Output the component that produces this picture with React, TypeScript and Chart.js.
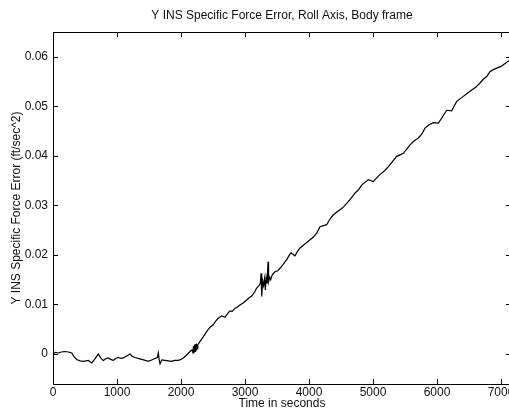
import React, { useEffect, useRef } from "react";
import { Chart, registerables } from "chart.js";

Chart.register(...registerables);

// Time axis samples (seconds)
const timeSec = [
  0, 40, 83, 130, 187, 240, 292, 330, 370, 420, 474, 515, 552, 604, 650, 708,
  750, 786, 830, 864, 900, 942, 980, 1020, 1060, 1098, 1150, 1203, 1240, 1281,
  1330, 1386, 1440, 1490, 1540, 1594, 1630, 1646, 1660, 1672, 1700, 1750,
  1800, 1854, 1900, 1958, 2000, 2036, 2090, 2140, 2170, 2185, 2195, 2203,
  2212, 2220, 2228, 2236, 2244, 2252, 2262, 2290, 2340, 2400, 2453, 2505,
  2545, 2583, 2635, 2687, 2730, 2766, 2800, 2844, 2880, 2922, 2970, 3026,
  3060, 3104, 3150, 3182, 3220, 3240, 3250, 3258, 3265, 3275, 3290, 3305,
  3318, 3330, 3345, 3360, 3368, 3385, 3400, 3420, 3440, 3469, 3510, 3547,
  3590, 3625, 3660, 3693, 3720, 3781, 3820, 3859, 3964, 4068, 4120, 4172,
  4276, 4330, 4380, 4484, 4540, 4589, 4650, 4719, 4770, 4823, 4927, 5005,
  5060, 5109, 5180, 5239, 5300, 5370, 5420, 5474, 5530, 5578, 5640, 5708,
  5760, 5813, 5880, 5943, 6021, 6073, 6151, 6229, 6307, 6360, 6411, 6480,
  6542, 6610, 6672, 6720, 6776, 6828, 6880, 6932, 6990, 7036, 7080, 7114,
  7150,
];

// Y specific force error, roll axis (ft/sec^2)
const forceErr = [
  0.0, 0.0003, 0.0002, 0.0004, 0.0005, 0.0004, 0.0002, -0.0006, -0.0011,
  -0.0014, -0.0015, -0.0014, -0.0013, -0.0018, -0.0011, 0.0, -0.0009,
  -0.0013, -0.0009, -0.0008, -0.0011, -0.0013, -0.0009, -0.0007, -0.0009,
  -0.0008, -0.0004, 0.0, -0.0005, -0.0007, -0.0009, -0.0011, -0.0013,
  -0.0015, -0.0012, -0.0009, -0.0007, 0.0002, -0.0012, -0.002, -0.0012,
  -0.0013, -0.0014, -0.0015, -0.0013, -0.0013, -0.0011, -0.0008, -0.0002,
  0.0005, 0.0008, 0.0003, 0.0016, 0.0002, 0.0019, 0.0005, 0.002, 0.0008,
  0.0021, 0.0011, 0.0018, 0.0024, 0.0033, 0.0045, 0.0054, 0.0059, 0.0067,
  0.0072, 0.0077, 0.0074, 0.0082, 0.0087, 0.0086, 0.0092, 0.0095, 0.0099,
  0.0103, 0.0109, 0.0113, 0.0117, 0.0125, 0.0133, 0.0138, 0.0143, 0.0163,
  0.0135, 0.0116, 0.0148, 0.0138, 0.0152, 0.0129, 0.0155, 0.0142, 0.0186,
  0.0146, 0.0155, 0.015, 0.0158, 0.0162, 0.0166, 0.0168, 0.0173, 0.018,
  0.0186, 0.0192, 0.02, 0.0204, 0.0198, 0.0207, 0.0214, 0.0225, 0.0236,
  0.0244, 0.0257, 0.0261, 0.0273, 0.0281, 0.0291, 0.0297, 0.0304, 0.0313,
  0.0325, 0.0331, 0.0341, 0.0352, 0.0348, 0.0356, 0.0362, 0.037, 0.0378,
  0.0388, 0.0399, 0.0402, 0.0405, 0.0414, 0.0422, 0.043, 0.0436, 0.0444,
  0.0456, 0.0463, 0.0467, 0.0466, 0.0476, 0.0492, 0.0491, 0.051, 0.0515,
  0.052, 0.0527, 0.0533, 0.0539, 0.0547, 0.0554, 0.056, 0.057, 0.0574,
  0.0577, 0.058, 0.0584, 0.0588, 0.0591, 0.0594,
];

// Axis tick positions
const xTicks = [0, 1000, 2000, 3000, 4000, 5000, 6000, 7000];
const yTicks = [0, 0.01, 0.02, 0.03, 0.04, 0.05, 0.06];

const titleText = "Y INS Specific Force Error, Roll Axis, Body frame";
const xLabel = "Time in seconds";
const yLabel = "Y INS Specific Force Error (ft/sec^2)";

const FONT = "'Liberation Sans', Arial, Helvetica, sans-serif";

// Boxed axes with inward tick marks on all four sides, plus centred title
const framePlugin = {
  id: "frame",
  afterDraw(chart: any) {
    const { ctx, chartArea: a, scales } = chart;
    const x = scales.x;
    const y = scales.y;
    const len = 5;
    ctx.save();
    ctx.strokeStyle = "#000";
    ctx.lineWidth = 1;
    ctx.beginPath();
    ctx.rect(
      Math.round(a.left) + 0.5,
      Math.round(a.top) + 0.5,
      Math.round(a.right - a.left),
      Math.round(a.bottom - a.top)
    );
    for (const t of x.ticks) {
      const px = Math.round(x.getPixelForValue(t.value)) + 0.5;
      ctx.moveTo(px, a.bottom);
      ctx.lineTo(px, a.bottom - len);
      ctx.moveTo(px, a.top);
      ctx.lineTo(px, a.top + len);
    }
    for (const t of y.ticks) {
      const py = Math.round(y.getPixelForValue(t.value)) + 0.5;
      ctx.moveTo(a.left, py);
      ctx.lineTo(a.left + len, py);
      ctx.moveTo(a.right, py);
      ctx.lineTo(a.right - len, py);
    }
    ctx.stroke();
    ctx.fillStyle = "#111";
    ctx.font = `12px ${FONT}`;
    ctx.textAlign = "center";
    ctx.textBaseline = "middle";
    ctx.fillText(titleText, (a.left + a.right) / 2, 16);
    ctx.restore();
  },
};

export default function App() {
  const canvasRef = useRef<HTMLCanvasElement | null>(null);

  useEffect(() => {
    if (!canvasRef.current) return;
    const points = timeSec.map((t, i) => ({ x: t, y: forceErr[i] }));
    const chart = new Chart(canvasRef.current, {
      type: "line",
      data: {
        datasets: [
          {
            data: points,
            borderColor: "#000",
            borderWidth: 1.2,
            pointRadius: 0,
            tension: 0,
            fill: false,
          },
        ],
      },
      options: {
        animation: false,
        responsive: true,
        maintainAspectRatio: false,
        layout: { padding: { top: 32, left: 0, right: 1, bottom: 0 } },
        plugins: {
          legend: { display: false },
          title: { display: false },
          tooltip: { enabled: false },
        },
        scales: {
          x: {
            type: "linear",
            min: 0,
            max: 7156,
            afterBuildTicks: (s: any) => {
              s.ticks = xTicks.map((v) => ({ value: v }));
            },
            afterFit: (s: any) => {
              s.height = 28;
              s.paddingLeft = 0;
              s.paddingRight = 0;
            },
            grid: { drawOnChartArea: false, drawTicks: false },
            border: { display: false },
            ticks: {
              autoSkip: false,
              maxRotation: 0,
              padding: 1,
              color: "#111",
              font: { family: FONT, size: 12 },
              callback: (v: any) => String(v),
            },
            title: {
              display: true,
              text: xLabel,
              color: "#111",
              font: { family: FONT, size: 12 },
              padding: { top: 0, bottom: 1 },
            },
          },
          y: {
            type: "linear",
            min: -0.00606,
            max: 0.065,
            afterBuildTicks: (s: any) => {
              s.ticks = yTicks.map((v) => ({ value: v }));
            },
            afterFit: (s: any) => {
              s.width = 53;
              s.paddingTop = 0;
              s.paddingBottom = 0;
            },
            grid: { drawOnChartArea: false, drawTicks: false },
            border: { display: false },
            ticks: {
              autoSkip: false,
              padding: 5,
              color: "#111",
              font: { family: FONT, size: 12 },
              callback: (v: any) =>
                Math.abs(v) < 1e-9 ? "0" : Number(v).toFixed(2),
            },
            title: {
              display: true,
              text: yLabel,
              color: "#111",
              font: { family: FONT, size: 12 },
              padding: { top: 9, bottom: 0 },
            },
          },
        },
      },
      plugins: [framePlugin],
    });
    return () => chart.destroy();
  }, []);

  return (
    <div
      style={{
        position: "fixed",
        left: 0,
        top: 0,
        width: 509,
        height: 412,
        overflow: "hidden",
        background: "#fff",
      }}
    >
      <div style={{ position: "relative", width: 512, height: 412 }}>
        <canvas ref={canvasRef} />
      </div>
    </div>
  );
}
